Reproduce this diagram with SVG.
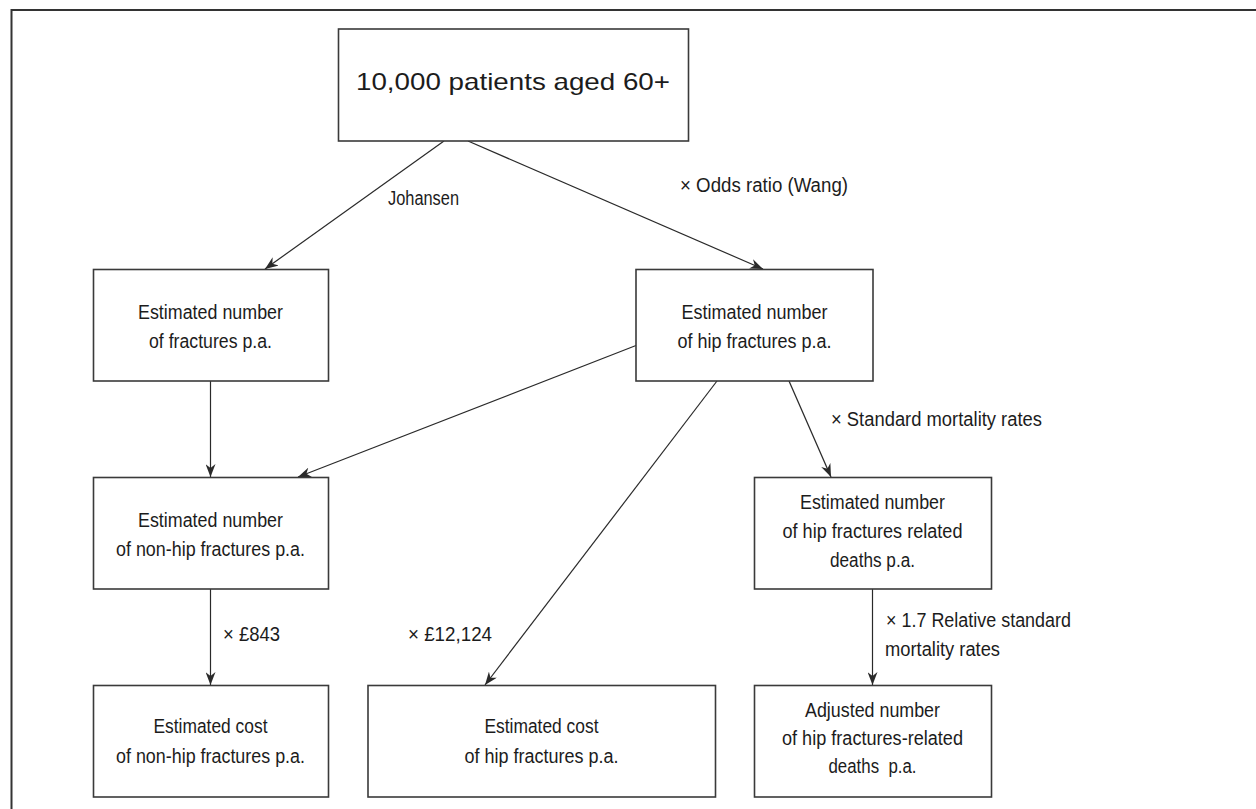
<svg xmlns="http://www.w3.org/2000/svg" width="1256" height="809" viewBox="0 0 1256 809">
<style>
  .box { fill: #ffffff; stroke: #3a3a3a; stroke-width: 1.6; }
  .t { font-family: "Liberation Sans", Arial, sans-serif; font-size: 20px; fill: #1c1c1c; text-anchor: middle; }
  .lbl { font-family: "Liberation Sans", Arial, sans-serif; font-size: 20px; fill: #1c1c1c; }
  .top { font-size: 24px; }
  .edge { stroke: #2a2a2a; stroke-width: 1.2; fill: none; marker-end: url(#arr); }
</style>
<defs>
  <marker id="arr" markerUnits="userSpaceOnUse" markerWidth="14" markerHeight="10" refX="13" refY="5" orient="auto">
    <path d="M0,0 L13,5 L0,10 L4,5 Z" fill="#2a2a2a"/>
  </marker>
</defs>
<rect width="1256" height="809" fill="#ffffff"/>
<path d="M11.5,809 V10 H1256" fill="none" stroke="#333333" stroke-width="2"/>

<g id="connectors">
  <line class="edge" x1="444" y1="141" x2="265" y2="269"/>
  <line class="edge" x1="468" y1="141" x2="763" y2="269"/>
  <line class="edge" x1="210.5" y1="381" x2="210.5" y2="477"/>
  <line class="edge" x1="636" y1="345.5" x2="298" y2="477"/>
  <line class="edge" x1="717" y1="381" x2="485" y2="685"/>
  <line class="edge" x1="789" y1="381" x2="831" y2="477"/>
  <line class="edge" x1="210.5" y1="589" x2="210.5" y2="685"/>
  <line class="edge" x1="872.5" y1="589" x2="872.5" y2="685"/>
  <text class="lbl" x="388" y="205" textLength="71" lengthAdjust="spacingAndGlyphs">Johansen</text>
  <text class="lbl" x="680" y="192" textLength="168" lengthAdjust="spacingAndGlyphs">× Odds ratio (Wang)</text>
  <text class="lbl" x="831" y="426" textLength="211" lengthAdjust="spacingAndGlyphs">× Standard mortality rates</text>
  <text class="lbl" x="223" y="641" textLength="57" lengthAdjust="spacingAndGlyphs">× £843</text>
  <text class="lbl" x="408" y="641" textLength="84" lengthAdjust="spacingAndGlyphs">× £12,124</text>
  <text class="lbl" x="886" y="627" textLength="185" lengthAdjust="spacingAndGlyphs">× 1.7 Relative standard</text>
  <text class="lbl" x="885" y="656" textLength="115" lengthAdjust="spacingAndGlyphs">mortality rates</text>
</g>

<g id="n-patients">
  <rect class="box" x="338.5" y="29" width="350" height="112"/>
  <text class="t top" x="513" y="90" textLength="314" lengthAdjust="spacingAndGlyphs">10,000 patients aged 60+</text>
</g>

<g id="n-fractures">
  <rect class="box" x="93.5" y="269.5" width="235" height="111.5"/>
  <text class="t" x="210.5" y="319" textLength="145" lengthAdjust="spacingAndGlyphs">Estimated number</text>
  <text class="t" x="210.5" y="348" textLength="123" lengthAdjust="spacingAndGlyphs">of fractures p.a.</text>
</g>

<g id="n-hip">
  <rect class="box" x="636" y="269.5" width="237" height="111.5"/>
  <text class="t" x="754.5" y="319" textLength="146" lengthAdjust="spacingAndGlyphs">Estimated number</text>
  <text class="t" x="754.5" y="348" textLength="154" lengthAdjust="spacingAndGlyphs">of hip fractures p.a.</text>
</g>

<g id="n-nonhip">
  <rect class="box" x="93.5" y="477.5" width="235" height="111.5"/>
  <text class="t" x="210.5" y="527" textLength="145" lengthAdjust="spacingAndGlyphs">Estimated number</text>
  <text class="t" x="210.5" y="556" textLength="189" lengthAdjust="spacingAndGlyphs">of non-hip fractures p.a.</text>
</g>

<g id="n-deaths">
  <rect class="box" x="754.5" y="477.5" width="237" height="111.5"/>
  <text class="t" x="872.5" y="509" textLength="145" lengthAdjust="spacingAndGlyphs">Estimated number</text>
  <text class="t" x="872.5" y="538" textLength="180" lengthAdjust="spacingAndGlyphs">of hip fractures related</text>
  <text class="t" x="872.5" y="567" textLength="85" lengthAdjust="spacingAndGlyphs">deaths p.a.</text>
</g>

<g id="n-cost-nonhip">
  <rect class="box" x="93.5" y="685.5" width="235" height="111.5"/>
  <text class="t" x="210.5" y="733" textLength="114" lengthAdjust="spacingAndGlyphs">Estimated cost</text>
  <text class="t" x="210.5" y="763" textLength="189" lengthAdjust="spacingAndGlyphs">of non-hip fractures p.a.</text>
</g>

<g id="n-cost-hip">
  <rect class="box" x="368" y="685.5" width="347.5" height="111.5"/>
  <text class="t" x="541.5" y="733" textLength="114" lengthAdjust="spacingAndGlyphs">Estimated cost</text>
  <text class="t" x="541.5" y="763" textLength="154" lengthAdjust="spacingAndGlyphs">of hip fractures p.a.</text>
</g>

<g id="n-adjusted">
  <rect class="box" x="754.5" y="685.5" width="237" height="111.5"/>
  <text class="t" x="872.5" y="717" textLength="135" lengthAdjust="spacingAndGlyphs">Adjusted number</text>
  <text class="t" x="872.5" y="745" textLength="181" lengthAdjust="spacingAndGlyphs">of hip fractures-related</text>
  <text class="t" x="872.5" y="773" textLength="88" lengthAdjust="spacingAndGlyphs" xml:space="preserve">deaths  p.a.</text>
</g>
</svg>
